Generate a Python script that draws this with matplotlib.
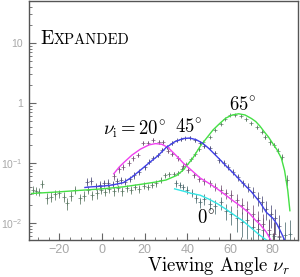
import numpy as np
import matplotlib
matplotlib.use('Agg')
import matplotlib.pyplot as plt
from matplotlib.ticker import FixedLocator, FixedFormatter, LogLocator, MultipleLocator, NullFormatter

plt.rcParams['mathtext.fontset'] = 'cm'

# model curves (x, y)
green_cx = [-33, -20, -10, 0, 10, 20, 25, 30, 35, 38, 42.5, 46, 49, 52, 55, 58, 61, 64, 67, 70, 72, 74, 76, 78, 80, 82, 84, 85.5, 87, 88]
green_cy = [0.031, 0.033, 0.035, 0.037, 0.040, 0.045, 0.048, 0.052, 0.062, 0.076, 0.12, 0.19, 0.26, 0.355, 0.45, 0.56, 0.63, 0.66, 0.63, 0.55, 0.49, 0.41, 0.33, 0.27, 0.21, 0.165, 0.12, 0.075, 0.035, 0.016]

blue_cx = [-8, -5, 0, 5, 10, 14, 18, 22, 26, 30, 34, 38, 41, 44, 47, 50, 54, 58, 62, 66, 70, 74, 77, 80, 82, 84, 86]
blue_cy = [0.039, 0.040, 0.041, 0.043, 0.047, 0.058, 0.076, 0.10, 0.13, 0.18, 0.225, 0.255, 0.26, 0.245, 0.215, 0.175, 0.126, 0.09, 0.065, 0.046, 0.033, 0.022, 0.015, 0.012, 0.0095, 0.0068, 0.0048]

magenta_cx = [5.5, 8, 10, 14, 18, 22, 25, 28, 31, 35, 38, 42, 46, 50, 54, 58, 61, 65, 69, 72, 74, 77, 79]
magenta_cy = [0.066, 0.085, 0.10, 0.135, 0.17, 0.20, 0.21, 0.205, 0.18, 0.13, 0.10, 0.075, 0.056, 0.046, 0.037, 0.029, 0.024, 0.019, 0.0145, 0.011, 0.0095, 0.007, 0.0052]

cyan_cx = [34, 38, 42, 46, 50, 54, 58, 62, 66, 70, 74, 77]
cyan_cy = [0.037, 0.034, 0.031, 0.029, 0.025, 0.021, 0.017, 0.0135, 0.0108, 0.0082, 0.0062, 0.0052]

# measured points (x, y, relative error)
green_x = [-32.5, -31, -29.5, -28, -26, -24, -22, -20, -18, -16.5, -14.5, -12.5, -10.5, -8.5, -6.5, -4.5, -2.5, -0.5,
           1.5, 3.5, 5.5, 7.5, 9.5, 11.5, 13.5, 15.5, 17.5, 19.5, 21.5, 23.5, 25.5, 27.5, 29.5, 31.5, 33.5, 35.5, 37.5,
           39.5, 41.5, 43.5, 45.5, 47.5, 50.5, 53, 55.5, 57.5, 60, 62.5, 65, 67.5, 70, 72.5, 75, 76.5, 78.5, 80.5, 82.5,
           84.5, 86.5]
green_y = [0.0355, 0.034, 0.033, 0.045, 0.026, 0.0275, 0.030, 0.031, 0.0275, 0.0214, 0.0285, 0.0355, 0.0257, 0.0285,
           0.0355, 0.029, 0.031, 0.0355, 0.033, 0.037, 0.034, 0.038, 0.034, 0.038, 0.036, 0.040, 0.037, 0.042, 0.040,
           0.043, 0.046, 0.052, 0.063, 0.065, 0.066, 0.068, 0.080, 0.095, 0.115, 0.14, 0.17, 0.22, 0.27, 0.36, 0.45,
           0.54, 0.62, 0.64, 0.60, 0.53, 0.46, 0.39, 0.33, 0.27, 0.22, 0.20, 0.16, 0.125, 0.052]
green_e = [0.15, 0.15, 0.15, 0.14, 0.2, 0.2, 0.18, 0.16, 0.2, 0.22, 0.18, 0.15, 0.2, 0.18, 0.15, 0.18, 0.18, 0.15,
           0.16, 0.15, 0.16, 0.14, 0.16, 0.14, 0.14, 0.13, 0.14, 0.13, 0.13, 0.12, 0.12, 0.11, 0.10, 0.10, 0.09, 0.09,
           0.08, 0.07, 0.07, 0.06, 0.06, 0.05, 0.05, 0.04, 0.04, 0.04, 0.04, 0.04, 0.04, 0.04, 0.05, 0.05, 0.06, 0.07,
           0.08, 0.09, 0.1, 0.12, 0.2]

blue_x = [-7, -5, -3, -1, 1, 3, 5, 7, 9, 11, 13, 15, 17.5, 20, 22, 24, 26, 28, 30.5, 33, 35, 37, 39, 41, 43.5, 46,
          48, 50.5, 53, 55, 57, 59, 61.5, 63.5, 66, 68.5, 70.5, 73, 75, 77, 79, 81, 83]
blue_y = [0.049, 0.050, 0.041, 0.043, 0.046, 0.047, 0.044, 0.050, 0.052, 0.049, 0.055, 0.062, 0.072, 0.085, 0.105,
          0.12, 0.136, 0.165, 0.185, 0.215, 0.24, 0.25, 0.26, 0.265, 0.24, 0.215, 0.19, 0.18, 0.147, 0.11, 0.10,
          0.086, 0.071, 0.058, 0.046, 0.040, 0.033, 0.026, 0.022, 0.017, 0.014, 0.012, 0.009]
blue_e = [0.15, 0.15, 0.15, 0.15, 0.14, 0.14, 0.14, 0.13, 0.13, 0.13, 0.12, 0.12, 0.11, 0.1, 0.09, 0.08, 0.08, 0.07,
          0.07, 0.06, 0.06, 0.06, 0.06, 0.06, 0.06, 0.06, 0.07, 0.07, 0.08, 0.09, 0.1, 0.1, 0.12, 0.13, 0.15, 0.17,
          0.2, 0.25, 0.3, 0.35, 0.4, 0.45, 0.5]

magenta_x = [5.5, 8, 10, 12.5, 14.5, 17, 19, 21.5, 24, 26.5, 28.5, 31, 33, 35.5, 38, 40.5, 43, 45.5, 48, 50.5, 53,
             55.5, 58, 60.5, 63, 65.5, 68, 70.5, 73, 75.5, 78, 80.5, 83]
magenta_y = [0.060, 0.078, 0.085, 0.10, 0.12, 0.136, 0.215, 0.215, 0.24, 0.225, 0.225, 0.16, 0.14, 0.12, 0.088,
             0.075, 0.062, 0.054, 0.050, 0.046, 0.040, 0.036, 0.031, 0.029, 0.024, 0.020, 0.017, 0.014, 0.011,
             0.0095, 0.0075, 0.0065, 0.006]
magenta_e = [0.12, 0.12, 0.11, 0.1, 0.1, 0.09, 0.08, 0.08, 0.07, 0.07, 0.07, 0.08, 0.08, 0.09, 0.1, 0.1, 0.11, 0.12,
             0.13, 0.14, 0.15, 0.17, 0.2, 0.22, 0.25, 0.3, 0.35, 0.4, 0.45, 0.5, 0.55, 0.6, 0.6]

cyan_x = [34.5, 36.5, 38, 40, 42, 44, 46, 48, 50.5, 53, 55.5, 58, 60.5, 63, 65.5, 68, 70.5, 73, 75.5, 78, 80.5, 83,
          85.5, 88]
cyan_y = [0.046, 0.043, 0.040, 0.036, 0.032, 0.026, 0.022, 0.025, 0.021, 0.019, 0.022, 0.016, 0.014, 0.012, 0.0105,
          0.011, 0.0085, 0.008, 0.0075, 0.0065, 0.006, 0.0058, 0.0062, 0.0065]
cyan_e = [0.12, 0.12, 0.13, 0.14, 0.15, 0.17, 0.2, 0.2, 0.22, 0.25, 0.25, 0.3, 0.35, 0.4, 0.45, 0.5, 0.55, 0.6, 0.6,
          0.7, 0.7, 0.7, 0.7, 0.7]

ytick_vals = [0.01, 0.1, 1, 10]
ytick_text = [r'$\mathregular{10^{-2}}$', r'$\mathregular{10^{-1}}$', '1', '10']
xtick_vals = [-20, 0, 20, 40, 60, 80]

series = [
    (green_cx, green_cy, green_x, green_y, green_e, '#44e044', '#52705a'),
    (cyan_cx, cyan_cy, cyan_x, cyan_y, cyan_e, '#33e6e6', '#456468'),
    (magenta_cx, magenta_cy, magenta_x, magenta_y, magenta_e, '#f040f0', '#6e4a6e'),
    (blue_cx, blue_cy, blue_x, blue_y, blue_e, '#4040e8', '#464672'),
]

fig = plt.figure(figsize=(3.0, 2.77), dpi=100)
ax = fig.add_axes([29 / 300, 1 - 240 / 277, 269 / 300, 239 / 277])

for cx, cy, px, py, pe, lc, pc in series:
    py = np.array(py)
    err = py * np.array(pe)
    ax.errorbar(px, py, yerr=err, fmt='+', ms=2.5, mew=0.6, elinewidth=0.7, capsize=0, color=pc, alpha=0.75, zorder=2)
    ax.plot(cx, cy, color=lc, lw=1.0, zorder=3)

ax.set_yscale('log')
ax.set_xlim(-34.2, 91.8)
ax.set_ylim(0.0052, 50)

ax.yaxis.set_major_locator(FixedLocator(ytick_vals))
ax.yaxis.set_major_formatter(FixedFormatter(ytick_text))
ax.yaxis.set_minor_locator(LogLocator(base=10, subs=np.arange(2, 10)))
ax.yaxis.set_minor_formatter(NullFormatter())
ax.xaxis.set_major_locator(FixedLocator(xtick_vals))
ax.xaxis.set_minor_locator(MultipleLocator(5))

ax.tick_params(which='both', direction='in', top=False, right=False, colors='#666666',
               labelcolor='#a8a8a8')
ax.tick_params(axis='y', which='major', length=5, pad=4.5, labelsize=7.5)
ax.tick_params(axis='y', which='minor', length=2.5)
ax.tick_params(axis='x', which='major', length=5, pad=3, labelsize=9)
ax.tick_params(axis='x', which='minor', length=2.5)
for lab in ax.get_xticklabels() + ax.get_yticklabels():
    lab.set_family('Liberation Sans')
for sp in ax.spines.values():
    sp.set_color('#555555')
    sp.set_linewidth(1.0)

# labels
t1 = ax.text(0.041, 0.82, 'E', transform=ax.transAxes, family='cmr10', fontsize=14, va='baseline', ha='left')
ax.annotate('XPANDED', xy=(1, 0), xycoords=t1, family='cmr10', fontsize=10.6, va='bottom', ha='left',
            xytext=(0.5, 0.55), textcoords='offset points')

ax.text(0.5, 0.30, r'$\nu_{\rm i} = 20^{\!\circ}$', fontsize=13.5, ha='left', va='baseline')
ax.text(34.2, 0.33, r'$45^{\!\circ}$', fontsize=13.5, ha='left', va='baseline')
ax.text(59.5, 0.76, r'$65^{\!\circ}$', fontsize=13.5, ha='left', va='baseline')
ax.text(44.5, 0.010, r'$0^{\!\circ}$', fontsize=13.5, ha='left', va='baseline')

fig.text(290 / 300, 1 - 271 / 277, r'Viewing Angle $\nu_r$', family='cmr10', fontsize=13.5,
         ha='right', va='baseline')

fig.savefig('out.png', dpi=100)
